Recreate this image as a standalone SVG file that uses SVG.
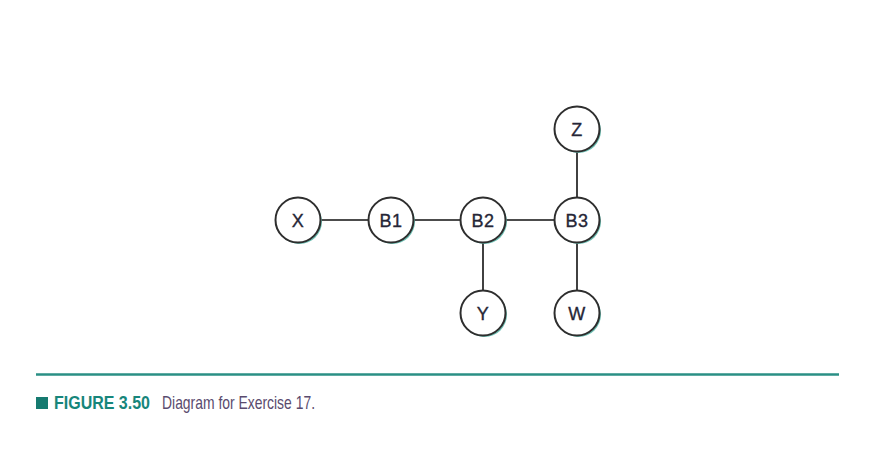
<svg xmlns="http://www.w3.org/2000/svg" width="882" height="474" viewBox="0 0 882 474">
<style>
.shadow{fill:#6cbfb3;}
.node{fill:#ffffff;stroke:#2e2e2e;stroke-width:2;}
.lbl{font-family:"Liberation Sans",Arial,sans-serif;font-size:18px;fill:#262636;stroke:#262636;stroke-width:0.35;text-anchor:middle;letter-spacing:0.5px;}
.edge{stroke:#111;stroke-width:1.6;fill:none;}
</style>
<rect width="882" height="474" fill="#ffffff"/>
<g id="connectors">
<line class="edge" x1="298" y1="220" x2="391" y2="220"/>
<line class="edge" x1="391" y1="220" x2="483" y2="220"/>
<line class="edge" x1="483" y1="220" x2="577" y2="220"/>
<line class="edge" x1="577" y1="129" x2="577" y2="220"/>
<line class="edge" x1="577" y1="220" x2="577" y2="313"/>
<line class="edge" x1="483" y1="220" x2="483" y2="313"/>
</g>
<g id="node-X"><circle class="shadow" cx="299.5" cy="221.5" r="22.5"/><circle class="node" cx="298" cy="220" r="22.5"/><text class="lbl" x="298" y="226.5">X</text></g>
<g id="node-B1"><circle class="shadow" cx="392.5" cy="221.5" r="22.5"/><circle class="node" cx="391" cy="220" r="22.5"/><text class="lbl" x="391" y="226.5">B1</text></g>
<g id="node-B2"><circle class="shadow" cx="484.5" cy="221.5" r="22.5"/><circle class="node" cx="483" cy="220" r="22.5"/><text class="lbl" x="483" y="226.5">B2</text></g>
<g id="node-B3"><circle class="shadow" cx="578.5" cy="221.5" r="22.5"/><circle class="node" cx="577" cy="220" r="22.5"/><text class="lbl" x="577" y="226.5">B3</text></g>
<g id="node-Z"><circle class="shadow" cx="578.5" cy="130.5" r="22.5"/><circle class="node" cx="577" cy="129" r="22.5"/><text class="lbl" x="577" y="135.5">Z</text></g>
<g id="node-Y"><circle class="shadow" cx="484.5" cy="314.5" r="22.5"/><circle class="node" cx="483" cy="313" r="22.5"/><text class="lbl" x="483" y="319.5">Y</text></g>
<g id="node-W"><circle class="shadow" cx="578.5" cy="314.5" r="22.5"/><circle class="node" cx="577" cy="313" r="22.5"/><text class="lbl" x="577" y="319.5">W</text></g>
<g id="caption">
<line x1="36" y1="374.5" x2="839" y2="374.5" stroke="#2a8f85" stroke-width="2.5"/>
<rect x="36" y="397" width="12" height="12" fill="#167a70"/>
<text x="54" y="409" font-family="'Liberation Sans',Arial,sans-serif" font-size="19" font-weight="bold" fill="#17867b" textLength="96" lengthAdjust="spacingAndGlyphs">FIGURE 3.50</text>
<text x="162" y="409" font-family="'Liberation Sans',Arial,sans-serif" font-size="19" fill="#5a4b6e" textLength="153" lengthAdjust="spacingAndGlyphs">Diagram for Exercise 17.</text>
</g>
</svg>
